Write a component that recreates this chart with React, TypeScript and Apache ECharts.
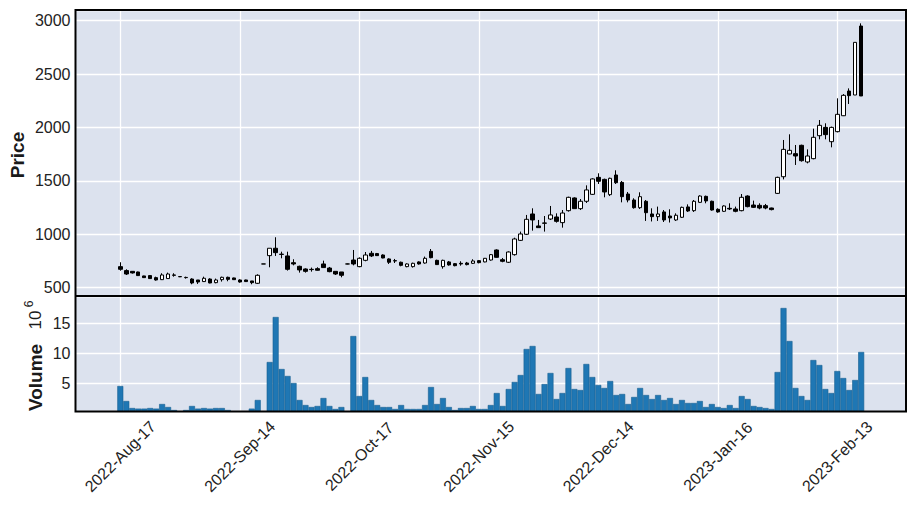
import React, { useEffect, useRef } from "react";
import * as echarts from "echarts";

// x tick labels, one every 20 trading days starting at day 0
const tickLabels = ["2022-Aug-17", "2022-Sep-14", "2022-Oct-17", "2022-Nov-15", "2022-Dec-14", "2023-Jan-16", "2023-Feb-13"];
const TICK_STEP = 20;

const opens = [
  697, 660, 653, 647, 610, 613, 594, 575, 585, 619, 604, 596, 581, 572, 557, 581, 547, 575, 597, 591,
  572, 572, 563, 541, 722, 800, 869, 814, 797, 734, 700, 675, 672, 678, 722, 684, 653, 647, 722, 759,
  697, 756, 822, 819, 806, 769, 753, 738, 697, 697, 741, 731, 840, 756, 697, 741, 725, 728, 731, 728,
  753, 741, 759, 853, 762, 738, 809, 943, 1000, 1190, 1078, 1106, 1143, 1162, 1109, 1221, 1340, 1240, 1309, 1374,
  1533, 1514, 1371, 1555, 1486, 1377, 1321, 1249, 1309, 1190, 1165, 1209, 1171, 1134, 1159, 1256, 1221, 1299, 1355, 1309,
  1234, 1215, 1243, 1237, 1221, 1358, 1274, 1271, 1268, 1246, 1383, 1539, 1752, 1755, 1833, 1677, 1708, 1923, 2001, 1867,
  1961, 2110, 2341, 2304, 2950,
];
const closes = [
  672, 628, 638, 613, 594, 585, 572, 619, 628, 616, 602, 594, 544, 553, 588, 544, 572, 597, 578, 575,
  553, 557, 547, 616, 722, 869, 828, 811, 672, 722, 666, 653, 669, 663, 688, 650, 628, 616, 722, 722,
  775, 806, 797, 800, 778, 738, 750, 709, 722, 728, 722, 775, 781, 716, 756, 713, 706, 722, 716, 750,
  734, 775, 809, 784, 747, 834, 956, 1003, 1140, 1134, 1062, 1103, 1181, 1121, 1199, 1346, 1240, 1309, 1415, 1518,
  1496, 1396, 1524, 1483, 1352, 1321, 1249, 1352, 1202, 1165, 1190, 1134, 1153, 1178, 1252, 1218, 1309, 1358, 1312, 1227,
  1209, 1265, 1237, 1215, 1346, 1259, 1252, 1246, 1246, 1231, 1533, 1795, 1786, 1733, 1689, 1733, 1908, 2020, 1933, 2001,
  2123, 2301, 2298, 2797, 2295,
];
const lows = [
  659, 619, 632, 610, 591, 582, 566, 572, 582, 603, 599, 585, 532, 535, 553, 541, 541, 557, 560, 572,
  547, 553, 532, 535, 722, 691, 797, 775, 660, 709, 641, 641, 650, 660, 688, 644, 619, 597, 719, 709,
  691, 747, 787, 797, 775, 722, 731, 700, 691, 688, 716, 725, 775, 713, 678, 706, 700, 706, 709, 722,
  728, 738, 753, 781, 738, 731, 800, 937, 993, 1034, 1062, 1025, 1134, 1109, 1062, 1212, 1240, 1227, 1293, 1368,
  1471, 1346, 1358, 1471, 1299, 1299, 1240, 1237, 1125, 1120, 1125, 1115, 1110, 1125, 1153, 1209, 1209, 1293, 1290, 1221,
  1202, 1209, 1227, 1206, 1215, 1252, 1246, 1234, 1234, 1224, 1377, 1514, 1749, 1649, 1680, 1664, 1702, 1889, 1889, 1814,
  1954, 2107, 2220, 2304, 2295,
];
const highs = [
  738, 672, 655, 650, 612, 616, 603, 635, 641, 635, 606, 603, 588, 572, 603, 588, 585, 603, 603, 594,
  578, 575, 563, 625, 722, 869, 972, 837, 837, 766, 706, 681, 688, 691, 753, 694, 653, 647, 725, 853,
  784, 834, 844, 825, 812, 775, 769, 744, 728, 734, 747, 791, 862, 762, 762, 750, 731, 747, 741, 766,
  759, 778, 815, 859, 778, 840, 968, 1025, 1181, 1243, 1134, 1171, 1265, 1196, 1227, 1352, 1346, 1330, 1458, 1524,
  1571, 1521, 1530, 1599, 1499, 1396, 1337, 1393, 1321, 1243, 1259, 1227, 1234, 1196, 1259, 1280, 1321, 1365, 1362, 1315,
  1243, 1271, 1290, 1259, 1377, 1365, 1315, 1290, 1284, 1249, 1539, 1883, 1936, 1836, 1839, 1795, 1989, 2070, 2039, 2008,
  2273, 2313, 2366, 2797, 2975,
];
// volume in millions
const volumes = [
  4.55, 2.05, 0.88, 0.78, 0.78, 0.88, 0.78, 1.55, 1.05, 0.55, 0.2, 0.55, 1.22, 0.78, 0.88, 0.78, 0.88, 0.88, 0.55, 0.2,
  0.2, 0.2, 0.78, 2.22, 0.2, 8.55, 16.05, 7.38, 6.22, 5.05, 2.22, 1.38, 1.05, 1.22, 2.55, 1.22, 0.72, 1.05, 0.2, 12.88,
  2.88, 6.05, 2.22, 1.38, 1.05, 1.05, 0.72, 1.38, 0.72, 0.72, 0.72, 1.38, 4.38, 1.55, 2.55, 1.05, 0.55, 0.88, 0.88, 1.22,
  0.72, 0.72, 1.38, 3.38, 1.22, 4.05, 5.22, 6.38, 10.72, 11.22, 3.22, 4.88, 6.72, 2.38, 3.38, 7.55, 4.05, 3.88, 8.22, 6.05,
  4.72, 4.22, 5.38, 3.05, 3.22, 1.55, 2.72, 4.22, 3.05, 2.38, 3.05, 2.22, 2.55, 1.55, 2.22, 1.72, 1.72, 2.05, 1.05, 1.55,
  1.05, 0.88, 1.38, 0.88, 2.88, 2.38, 1.22, 1.05, 0.88, 0.72, 6.88, 17.55, 12.05, 4.22, 2.88, 2.22, 8.88, 8.05, 4.05, 3.38,
  7.05, 5.88, 3.88, 5.55, 10.22,
];

const PAD = 7;
const FONT = "'Liberation Sans', Arial, Helvetica, sans-serif";
const GL = 75.5;
const GW = 830.5;
const P_TOP = 10;
const P_H = 286;
const V_TOP = 296;
const V_H = 115.5;
const BG = "#DCE2EE";

export default function App() {
  const ref = useRef<HTMLDivElement>(null);
  useEffect(() => {
    if (!ref.current) return;
    const chart = echarts.init(ref.current, null, { renderer: "svg" });
    const n = opens.length;
    const cats = Array.from({ length: n + 2 * PAD }, (_, i) => String(i - PAD));
    const candle = cats.map((_, i) => {
      const k = i - PAD;
      if (k < 0 || k >= n) return ["-", "-", "-", "-"];
      return [opens[k], closes[k], lows[k], highs[k]];
    });
    const vol = cats.map((_, i) => {
      const k = i - PAD;
      return k < 0 || k >= n ? "-" : volumes[k];
    });
    const xFmt = (v: number) => {
      const r = Math.round(v);
      if (Math.abs(v - r) > 1e-6 || r < 0 || r % TICK_STEP !== 0) return "";
      return tickLabels[r / TICK_STEP] ?? "";
    };
    const white = { color: "#ffffff", width: 1.3 };
    const valX = (gridIndex: number, labels: boolean) => ({
      type: "value",
      gridIndex,
      position: "bottom",
      min: -PAD - 0.5,
      max: n + PAD - 0.5,
      splitNumber: 7,
      minInterval: TICK_STEP,
      maxInterval: TICK_STEP,
      axisLine: { show: false },
      axisTick: { show: false },
      splitLine: { show: true, lineStyle: white },
      axisLabel: labels
        ? {
            show: true,
            rotate: 45,
            align: "center",
            verticalAlign: "middle",
            margin: 45,
            formatter: xFmt,
            fontSize: 16,
            color: "#222",
            fontFamily: FONT,
            showMinLabel: true,
            showMaxLabel: true,
          }
        : { show: false },
    });
    const option: any = {
      animation: false,
      backgroundColor: "#ffffff",
      textStyle: { fontFamily: FONT },
      grid: [
        { left: GL, top: P_TOP, width: GW, height: P_H, show: true, backgroundColor: BG, borderWidth: 0 },
        { left: GL, top: V_TOP, width: GW, height: V_H, show: true, backgroundColor: BG, borderWidth: 0 },
      ],
      xAxis: [
        { type: "category", gridIndex: 0, data: cats, position: "top", show: false, boundaryGap: true },
        { type: "category", gridIndex: 1, data: cats, position: "top", show: false, boundaryGap: true },
        valX(0, false),
        valX(1, true),
      ],
      yAxis: [
        {
          type: "value",
          gridIndex: 0,
          min: 422,
          max: 3100,
          splitNumber: 5,
          minInterval: 500,
          maxInterval: 500,
          axisLine: { show: false },
          axisTick: { show: false },
          splitLine: { show: true, lineStyle: white },
          axisLabel: {
            margin: 5,
            fontSize: 16,
            color: "#222",
            fontFamily: FONT,
            formatter: (v: number) => (Math.abs(v / 500 - Math.round(v / 500)) < 1e-9 ? String(v) : ""),
          },
        },
        {
          type: "value",
          gridIndex: 1,
          min: 0.3,
          max: 19.55,
          splitNumber: 4,
          minInterval: 5,
          maxInterval: 5,
          axisLine: { show: false },
          axisTick: { show: false },
          splitLine: { show: true, lineStyle: white },
          axisLabel: {
            margin: 5,
            fontSize: 16,
            color: "#222",
            fontFamily: FONT,
            formatter: (v: number) =>
              v > 0.5 && Math.abs(v / 5 - Math.round(v / 5)) < 1e-9 ? String(Math.round(v)) : "",
          },
        },
      ],
      series: [
        {
          type: "candlestick",
          xAxisIndex: 0,
          yAxisIndex: 0,
          data: candle,
          barWidth: 4,
          itemStyle: {
            color: "#ffffff",
            color0: "#000000",
            borderColor: "#000000",
            borderColor0: "#000000",
            borderColorDoji: "#000000",
            borderWidth: 1,
          },
          z: 5,
        },
        {
          type: "bar",
          xAxisIndex: 1,
          yAxisIndex: 1,
          data: vol,
          barWidth: "100%",
          barCategoryGap: "0%",
          itemStyle: { color: "#1f77b4", borderColor: "#185f91", borderWidth: 0.6 },
          z: 5,
        },
      ],
      graphic: [
        {
          type: "rect",
          z: 100,
          silent: true,
          shape: { x: GL, y: P_TOP, width: GW, height: V_TOP + V_H - P_TOP },
          style: { fill: "none", stroke: "#000", lineWidth: 2 },
        },
        {
          type: "line",
          z: 100,
          silent: true,
          shape: { x1: GL, y1: V_TOP, x2: GL + GW, y2: V_TOP },
          style: { stroke: "#000", lineWidth: 2 },
        },
        {
          type: "text",
          x: 17.5,
          y: P_TOP + P_H / 2 + 2,
          rotation: Math.PI / 2,
          style: { text: "Price", font: `bold 19px ${FONT}`, fill: "#1a1a1a", align: "center", verticalAlign: "middle" },
        },
        {
          type: "text",
          x: 35,
          y: 377.5,
          rotation: Math.PI / 2,
          style: { text: "Volume", font: `bold 19px ${FONT}`, fill: "#1a1a1a", align: "center", verticalAlign: "middle" },
        },
        {
          type: "text",
          x: 35.5,
          y: 320,
          rotation: Math.PI / 2,
          style: { text: "10", font: `17px ${FONT}`, fill: "#1a1a1a", align: "center", verticalAlign: "middle" },
        },
        {
          type: "text",
          x: 29,
          y: 304,
          rotation: Math.PI / 2,
          style: { text: "6", font: `12px ${FONT}`, fill: "#1a1a1a", align: "center", verticalAlign: "middle" },
        },
      ],
    };
    chart.setOption(option);
    return () => chart.dispose();
  }, []);
  return <div ref={ref} style={{ position: "absolute", left: 0, top: 0, width: 914, height: 506 }} />;
}
